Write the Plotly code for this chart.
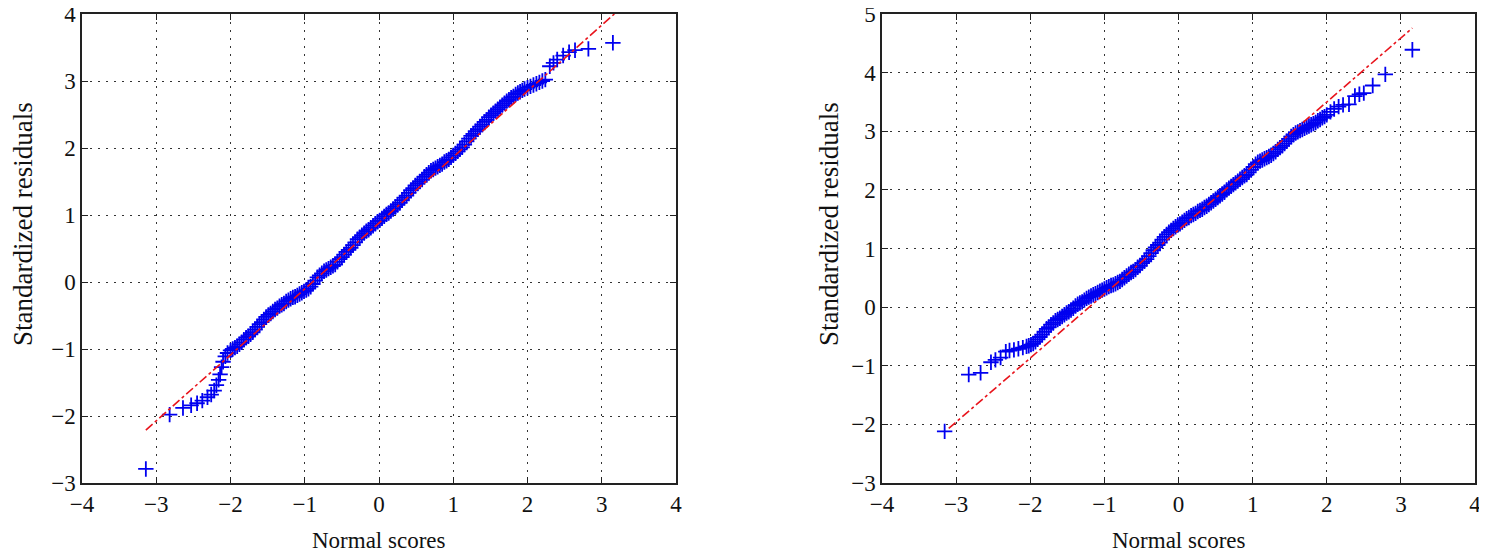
import plotly.graph_objects as go

# -- Left panel: (normal score, standardized residual)
left_points = [
    (-3.14, -2.79), (-2.82, -1.98), (-2.64, -1.88), (-2.53, -1.84), (-2.45, -1.81),
    (-2.38, -1.77), (-2.31, -1.72), (-2.26, -1.68), (-2.22, -1.62), (-2.19, -1.54),
    (-2.16, -1.46), (-2.14, -1.38), (-2.12, -1.27), (-2.10, -1.19), (-2.07, -1.11),
    (-2.04, -1.06), (-2.00, -1.02), (-1.97, -1.00), (-1.94, -0.98), (-1.91, -0.96),
    (-1.88, -0.93), (-1.85, -0.90), (-1.82, -0.86), (-1.79, -0.83), (-1.76, -0.81),
    (-1.73, -0.78), (-1.70, -0.75), (-1.67, -0.71), (-1.64, -0.67), (-1.61, -0.63),
    (-1.58, -0.60), (-1.55, -0.56), (-1.52, -0.52), (-1.49, -0.49), (-1.46, -0.47),
    (-1.43, -0.44), (-1.40, -0.41), (-1.37, -0.39), (-1.34, -0.36), (-1.31, -0.34),
    (-1.28, -0.32), (-1.25, -0.29), (-1.22, -0.27), (-1.19, -0.25), (-1.16, -0.23),
    (-1.13, -0.22), (-1.10, -0.20), (-1.07, -0.18), (-1.04, -0.16), (-1.01, -0.14),
    (-0.98, -0.12), (-0.95, -0.10), (-0.92, -0.07), (-0.89, -0.03), (-0.86, 0.02),
    (-0.83, 0.07), (-0.80, 0.10), (-0.77, 0.13), (-0.74, 0.16), (-0.71, 0.18),
    (-0.68, 0.20), (-0.65, 0.22), (-0.62, 0.24), (-0.59, 0.26), (-0.56, 0.30),
    (-0.53, 0.34), (-0.50, 0.37), (-0.47, 0.41), (-0.44, 0.45), (-0.41, 0.48),
    (-0.38, 0.51), (-0.35, 0.55), (-0.32, 0.59), (-0.29, 0.64), (-0.26, 0.67),
    (-0.23, 0.70), (-0.20, 0.73), (-0.17, 0.76), (-0.14, 0.78), (-0.11, 0.81),
    (-0.08, 0.84), (-0.05, 0.87), (-0.02, 0.90), (0.01, 0.92), (0.04, 0.95),
    (0.07, 0.98), (0.10, 1.01), (0.13, 1.03), (0.16, 1.06), (0.19, 1.09),
    (0.22, 1.12), (0.25, 1.15), (0.28, 1.18), (0.31, 1.22), (0.34, 1.26),
    (0.37, 1.29), (0.40, 1.33), (0.43, 1.37), (0.46, 1.40), (0.49, 1.44),
    (0.52, 1.47), (0.55, 1.50), (0.58, 1.53), (0.61, 1.57), (0.64, 1.60),
    (0.67, 1.63), (0.70, 1.66), (0.73, 1.68), (0.76, 1.70), (0.79, 1.72),
    (0.82, 1.74), (0.85, 1.76), (0.88, 1.79), (0.91, 1.81), (0.94, 1.83),
    (0.97, 1.86), (1.00, 1.89), (1.03, 1.92), (1.06, 1.95), (1.09, 1.98),
    (1.12, 2.01), (1.15, 2.05), (1.18, 2.10), (1.21, 2.14), (1.24, 2.18),
    (1.27, 2.21), (1.30, 2.25), (1.33, 2.28), (1.36, 2.32), (1.39, 2.35),
    (1.42, 2.39), (1.45, 2.42), (1.48, 2.46), (1.51, 2.49), (1.54, 2.52),
    (1.57, 2.55), (1.60, 2.58), (1.63, 2.61), (1.66, 2.64), (1.69, 2.67),
    (1.72, 2.70), (1.75, 2.72), (1.78, 2.75), (1.81, 2.77), (1.84, 2.80),
    (1.87, 2.82), (1.90, 2.84), (1.93, 2.86), (1.96, 2.88), (2.00, 2.90),
    (2.04, 2.92), (2.08, 2.94), (2.12, 2.96), (2.16, 2.98), (2.20, 3.00),
    (2.24, 3.02), (2.30, 3.22), (2.35, 3.27), (2.40, 3.32), (2.48, 3.38),
    (2.56, 3.43), (2.64, 3.46), (2.82, 3.48), (3.15, 3.57),
]
left_ref_x = [-3.14, 3.17]
left_ref_y = [-2.21, 4.0]

# -- Right panel
right_points = [
    (-3.155, -2.12), (-2.83, -1.15), (-2.67, -1.12), (-2.53, -0.94), (-2.47, -0.90),
    (-2.40, -0.86), (-2.33, -0.76), (-2.28, -0.74), (-2.22, -0.73), (-2.16, -0.71),
    (-2.10, -0.69), (-2.05, -0.67), (-2.02, -0.66), (-1.99, -0.64), (-1.96, -0.62),
    (-1.93, -0.59), (-1.90, -0.55), (-1.87, -0.51), (-1.84, -0.47), (-1.81, -0.42),
    (-1.78, -0.37), (-1.75, -0.34), (-1.72, -0.30), (-1.69, -0.27), (-1.66, -0.23),
    (-1.63, -0.21), (-1.60, -0.19), (-1.57, -0.16), (-1.54, -0.13), (-1.51, -0.10),
    (-1.48, -0.08), (-1.45, -0.05), (-1.42, -0.02), (-1.39, 0.02), (-1.36, 0.05),
    (-1.33, 0.07), (-1.30, 0.09), (-1.27, 0.12), (-1.24, 0.15), (-1.21, 0.17),
    (-1.18, 0.19), (-1.15, 0.21), (-1.12, 0.23), (-1.09, 0.25), (-1.06, 0.27),
    (-1.03, 0.29), (-1.00, 0.31), (-0.97, 0.33), (-0.94, 0.35), (-0.91, 0.37),
    (-0.88, 0.38), (-0.85, 0.40), (-0.82, 0.42), (-0.79, 0.44), (-0.76, 0.47),
    (-0.73, 0.50), (-0.70, 0.53), (-0.67, 0.56), (-0.64, 0.59), (-0.61, 0.61),
    (-0.58, 0.64), (-0.55, 0.68), (-0.52, 0.71), (-0.49, 0.75), (-0.46, 0.78),
    (-0.43, 0.82), (-0.40, 0.87), (-0.37, 0.92), (-0.34, 0.97), (-0.31, 1.02),
    (-0.28, 1.06), (-0.25, 1.10), (-0.22, 1.15), (-0.19, 1.20), (-0.16, 1.24),
    (-0.13, 1.28), (-0.10, 1.31), (-0.07, 1.34), (-0.04, 1.37), (-0.01, 1.40),
    (0.02, 1.42), (0.05, 1.45), (0.08, 1.48), (0.11, 1.51), (0.14, 1.53),
    (0.17, 1.56), (0.20, 1.58), (0.23, 1.60), (0.26, 1.63), (0.29, 1.65),
    (0.32, 1.67), (0.35, 1.70), (0.38, 1.72), (0.41, 1.75), (0.44, 1.78),
    (0.47, 1.81), (0.50, 1.84), (0.53, 1.87), (0.56, 1.90), (0.59, 1.93),
    (0.62, 1.96), (0.65, 2.00), (0.68, 2.03), (0.71, 2.06), (0.74, 2.09),
    (0.77, 2.12), (0.80, 2.15), (0.83, 2.18), (0.86, 2.21), (0.89, 2.24),
    (0.92, 2.26), (0.95, 2.30), (0.98, 2.34), (1.01, 2.39), (1.04, 2.44),
    (1.07, 2.47), (1.10, 2.49), (1.13, 2.51), (1.16, 2.53), (1.19, 2.55),
    (1.22, 2.57), (1.25, 2.59), (1.28, 2.62), (1.31, 2.65), (1.34, 2.69),
    (1.37, 2.72), (1.40, 2.75), (1.43, 2.79), (1.46, 2.83), (1.49, 2.87),
    (1.52, 2.91), (1.55, 2.94), (1.58, 2.97), (1.61, 2.99), (1.64, 3.01),
    (1.67, 3.03), (1.70, 3.05), (1.73, 3.07), (1.76, 3.09), (1.79, 3.11),
    (1.82, 3.13), (1.85, 3.15), (1.88, 3.18), (1.91, 3.20), (1.94, 3.23),
    (1.97, 3.25), (2.00, 3.28), (2.05, 3.33), (2.10, 3.38), (2.16, 3.42),
    (2.22, 3.45), (2.30, 3.46), (2.38, 3.60), (2.44, 3.63), (2.50, 3.65),
    (2.62, 3.78), (2.79, 3.97), (3.155, 4.39),
]
right_ref_x = [-3.10, 3.155]
right_ref_y = [-2.07, 4.76]

x_ticks = [-4, -3, -2, -1, 0, 1, 2, 3, 4]
left_y_ticks = [-3, -2, -1, 0, 1, 2, 3, 4]
right_y_ticks = [-3, -2, -1, 0, 1, 2, 3, 4, 5]

FONT = "Liberation Serif"
# the page body adds an 8px margin, so every pixel position below is the
# page position minus 8; the figure reaches exactly to the window edge
W, H = 1479, 544
TOP, BOTTOM = 6, 475

fig = go.Figure()

panels = [
    (left_points, left_ref_x, left_ref_y, "x", "y"),
    (right_points, right_ref_x, right_ref_y, "x2", "y2"),
]
for pts, rx, ry, xa, ya in panels:
    fig.add_trace(go.Scatter(
        x=[p[0] for p in pts], y=[p[1] for p in pts], mode="markers",
        marker=dict(symbol="cross-thin", size=11, line=dict(color="#0000f0", width=1.8)),
        xaxis=xa, yaxis=ya, showlegend=False,
    ))
    fig.add_trace(go.Scatter(
        x=rx, y=ry, mode="lines",
        line=dict(color="#e8141c", width=1.6, dash="dashdot"),
        xaxis=xa, yaxis=ya, showlegend=False,
    ))

axis_common = dict(
    showline=True, linecolor="#222", linewidth=1.5, mirror="ticks",
    ticks="inside", ticklen=6, tickcolor="#222", tickwidth=1.2,
    showgrid=True, gridcolor="#333", gridwidth=1, griddash="2px,6px",
    zeroline=False, tickfont=dict(family=FONT, size=23, color="#111"),
    automargin=False, dtick=1, ticklabeloverflow="allow",
)

fig.update_layout(
    width=W, height=H,
    margin=dict(l=0, r=0, t=TOP, b=H - BOTTOM),
    paper_bgcolor="white", plot_bgcolor="white",
    xaxis=dict(axis_common, domain=[74 / W, 668 / W], range=[-4, 4], tickvals=x_ticks, anchor="y"),
    yaxis=dict(axis_common, domain=[0, 1], range=[-3, 4], tickvals=left_y_ticks, anchor="x"),
    xaxis2=dict(axis_common, domain=[874 / W, 1467 / W], range=[-4, 4], tickvals=x_ticks, anchor="y2"),
    yaxis2=dict(axis_common, domain=[0, 1], range=[-3, 5], tickvals=right_y_ticks, anchor="x2"),
)

# Axis titles as annotations so they sit where the original has them
plot_h = BOTTOM - TOP
for cx in [(74 + 668) / 2, (874 + 1467) / 2]:
    fig.add_annotation(text="Normal scores", xref="paper", yref="paper",
                       x=cx / W, y=(BOTTOM - 532) / plot_h,
                       showarrow=False, font=dict(family=FONT, size=23, color="#111"),
                       xanchor="center", yanchor="middle")
for cx in [15, 821]:
    fig.add_annotation(text="Standardized residuals", xref="paper", yref="paper",
                       x=cx / W, y=(BOTTOM - 216) / plot_h, textangle=-90,
                       showarrow=False, font=dict(family=FONT, size=27, color="#111"),
                       xanchor="center", yanchor="middle")

fig.write_html("out.html")
